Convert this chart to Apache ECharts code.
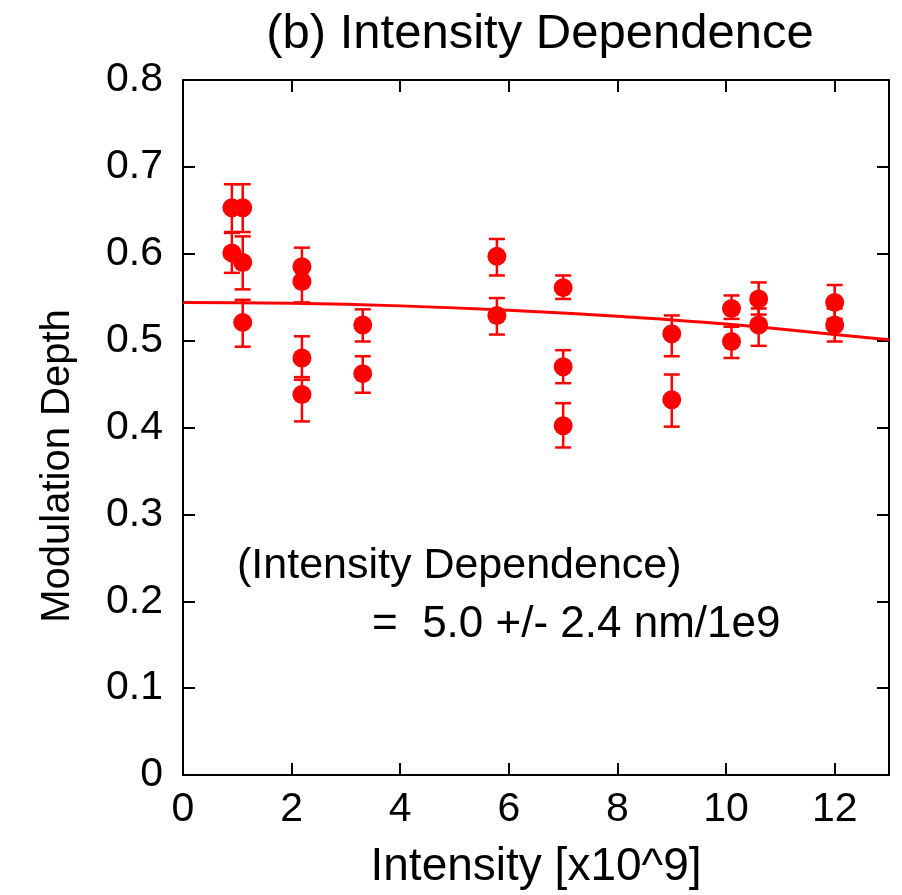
<!DOCTYPE html>
<html><head><meta charset="utf-8">
<script src="https://cdn.jsdelivr.net/npm/echarts@6/dist/echarts.min.js"></script>
<style>html,body{margin:0;padding:0;background:#fff}#c{width:902px;height:895px}</style>
</head><body><div id="c"></div>
<script>
const xTicks = [0, 2, 4, 6, 8, 10, 12];
const yTicks = [0, 0.1, 0.2, 0.3, 0.4, 0.5, 0.6, 0.7, 0.8];
const xVals  = [0.9, 1.1, 0.9, 1.1, 1.1, 2.19, 2.19, 2.19, 2.19, 3.31, 3.31, 5.78, 5.78, 7.0, 7.0, 7.0, 9.0, 9.0, 10.1, 10.1, 10.6, 10.6, 12.0, 12.0];
const yVals  = [0.653, 0.653, 0.601, 0.590, 0.521, 0.585, 0.568, 0.480, 0.438, 0.518, 0.462, 0.597, 0.529, 0.561, 0.470, 0.402, 0.508, 0.432, 0.537, 0.499, 0.548, 0.518, 0.544, 0.518];
const yLow   = [0.625, 0.625, 0.578, 0.559, 0.493, 0.565, 0.544, 0.458, 0.407, 0.499, 0.440, 0.575, 0.507, 0.548, 0.451, 0.377, 0.482, 0.401, 0.525, 0.480, 0.530, 0.494, 0.525, 0.499];
const yHigh  = [0.680, 0.680, 0.624, 0.620, 0.547, 0.607, 0.590, 0.505, 0.455, 0.536, 0.482, 0.617, 0.549, 0.575, 0.489, 0.428, 0.529, 0.461, 0.552, 0.516, 0.567, 0.537, 0.564, 0.537];
const fitX   = [0, 2, 4, 6, 8, 10, 12, 13];
const fitY   = [0.544, 0.543, 0.540, 0.535, 0.528, 0.519, 0.507, 0.501];
const titleText = '(b) Intensity Dependence';
const xName = 'Intensity [x10^9]';
const yName = 'Modulation Depth';
const note1 = '(Intensity Dependence)';
const note2 = '=  5.0 +/- 2.4 nm/1e9';

const FONT = 'Liberation Sans, Arial, sans-serif';
const RED = '#ff0000';
const chart = echarts.init(document.getElementById('c'));
const pts = xVals.map((x, i) => [x, yVals[i]]);
const errs = xVals.map((x, i) => [x, yLow[i], yHigh[i]]);
const fit = fitX.map((x, i) => [x, fitY[i]]);
function common() {
  return {
    axisLine: {show: true, onZero: false, lineStyle: {color: '#000', width: 2}},
    axisTick: {show: true, inside: true, length: 12, lineStyle: {color: '#000', width: 2}},
    splitLine: {show: false}
  };
}
chart.setOption({
  animation: false,
  backgroundColor: '#fff',
  title: {text: titleText, left: 535, top: 5, textAlign: 'center',
    textStyle: {fontFamily: FONT, fontWeight: 'normal', fontSize: 49, color: '#000'}},
  grid: {left: 183, right: 13, top: 80, bottom: 119},
  xAxis: [
    Object.assign(common(), {type: 'value', min: 0, max: 13, interval: 2, position: 'bottom',
      name: xName, nameLocation: 'middle', nameGap: 69,
      nameTextStyle: {fontFamily: FONT, fontSize: 46, color: '#000'},
      axisLabel: {fontFamily: FONT, fontSize: 41, color: '#000', margin: 14,
        formatter: v => xTicks.includes(v) ? String(v) : ''}}),
    Object.assign(common(), {type: 'value', min: 0, max: 13, interval: 2, position: 'top',
      axisLabel: {show: false}})
  ],
  yAxis: [
    Object.assign(common(), {type: 'value', min: 0, max: 0.8, interval: 0.1, position: 'left',
      axisLabel: {fontFamily: FONT, fontSize: 41, color: '#000', margin: 20,
        formatter: v => { const t = yTicks.find(k => Math.abs(k - v) < 1e-9); return t === undefined ? '' : String(t); }}}),
    Object.assign(common(), {type: 'value', min: 0, max: 0.8, interval: 0.1, position: 'right',
      axisLabel: {show: false}})
  ],
  graphic: [
    {type: 'text', x: 58, y: 466, rotation: Math.PI / 2,
      style: {text: yName, font: '40px ' + FONT, fill: '#000', align: 'center', verticalAlign: 'middle'}},
    {type: 'text', left: 237, top: 545, style: {text: note1, font: '43px ' + FONT, fill: '#000'}},
    {type: 'text', left: 372, top: 603, style: {text: note2, font: '44px ' + FONT, fill: '#000'}}
  ],
  series: [
    {type: 'line', data: fit, smooth: true, showSymbol: false, symbol: 'none',
      lineStyle: {color: RED, width: 3}, z: 2},
    {type: 'custom', data: errs, z: 3,
      renderItem: (params, api) => {
        const x = api.value(0);
        const lo = api.coord([x, api.value(1)]);
        const hi = api.coord([x, api.value(2)]);
        const cw = 8;
        const st = {stroke: RED, lineWidth: 2.5};
        return {type: 'group', children: [
          {type: 'line', shape: {x1: lo[0], y1: lo[1], x2: hi[0], y2: hi[1]}, style: st},
          {type: 'line', shape: {x1: lo[0] - cw, y1: lo[1], x2: lo[0] + cw, y2: lo[1]}, style: st},
          {type: 'line', shape: {x1: hi[0] - cw, y1: hi[1], x2: hi[0] + cw, y2: hi[1]}, style: st}
        ]};
      }},
    {type: 'scatter', data: pts, symbol: 'circle', symbolSize: 19,
      itemStyle: {color: RED, opacity: 1}, z: 4}
  ]
});
</script></body></html>
